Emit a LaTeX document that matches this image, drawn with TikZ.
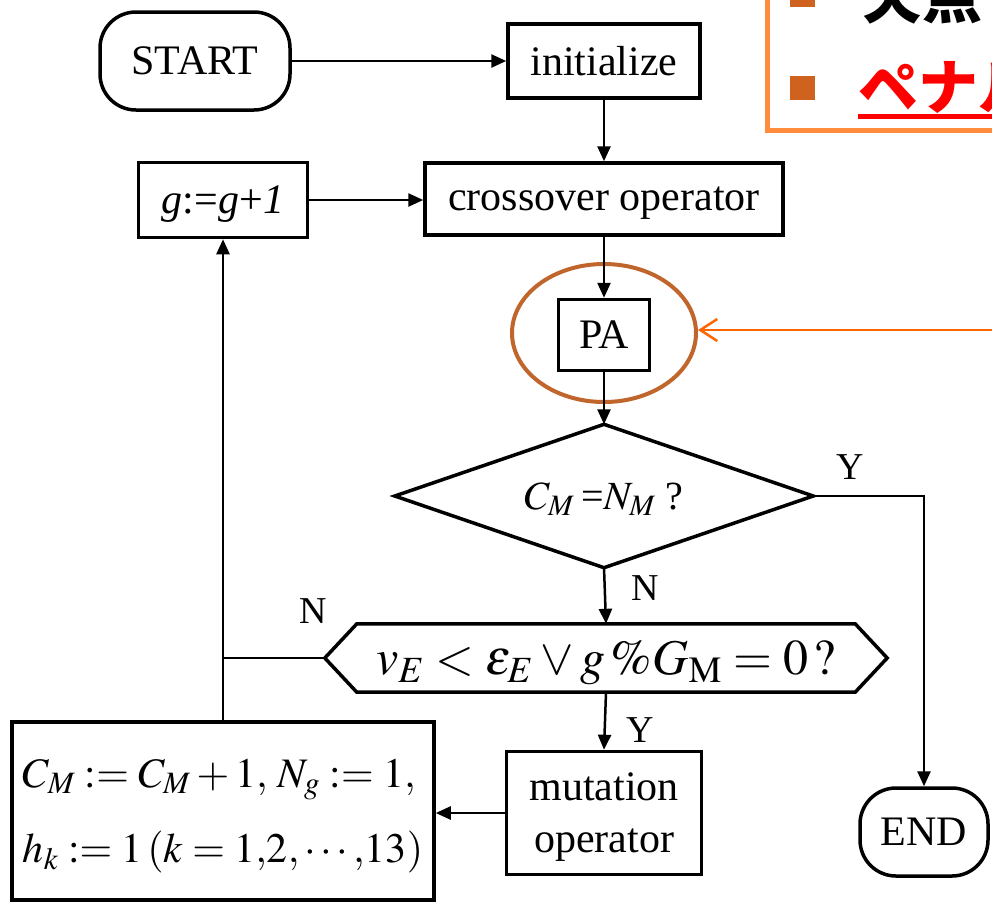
\documentclass[tikz,border=0pt]{standalone}
\usepackage{mathptmx}
\usepackage{fontspec}
\setmainfont{Liberation Serif}
\newfontfamily\cjk{Noto Sans CJK JP}
\usetikzlibrary{arrows.meta,shapes.geometric}
\definecolor{ecol}{HTML}{C0652B}
\definecolor{oarrow}{HTML}{FF6600}
\definecolor{obox}{HTML}{FF8B3D}
\definecolor{bul}{HTML}{D0621F}
\tikzset{
  base/.style={draw, line width=3.5pt, inner sep=0pt, text depth=0pt, font=\fontsize{42}{52}\selectfont},
  box/.style={base, rectangle},
  term/.style={base, rounded corners=36pt},
  hidden/.style={inner sep=0pt, text depth=0pt},
  conn/.style={line width=2.5pt, -{Triangle[length=15pt,width=13pt]}},
  plain/.style={line width=2.5pt},
  lbl/.style={inner sep=0pt, font=\fontsize{38}{44}\selectfont},
  oarr/.style={draw=oarrow, line width=2.5pt, -{Straight Barb[length=17pt,width=22pt]}},
  cjktext/.style={anchor=base west, inner sep=0pt, font=\cjk\bfseries\fontsize{60}{70}\selectfont}
}
\begin{document}
\begin{tikzpicture}[x=1pt,y=-1pt]
\useasboundingbox (0,0) rectangle (992,903);
\clip (0,0) rectangle (992,903);

% top-right cropped box
\draw[draw=obox, line width=5pt] (767,-60) rectangle (1100,130);
\fill[bul] (790,-17) rectangle (815,7);
\fill[bul] (790,76) rectangle (815,100);
\node[cjktext] (t1) at (862,18) {欠点};
\node[cjktext, text=red] (t2) at (858,109) {ペナルティ};
\draw[red, line width=5pt] (t2.base west) ++(0,7) coordinate (u1) -- (1100,116);

% nodes
\node[term, minimum width=190pt, minimum height=98pt] (start) at (195,61) {START};
\node[box, minimum width=192pt, minimum height=74pt] (init) at (604,61) {initialize};
\node[box, minimum width=358pt, minimum height=72pt] (cross) at (604,199) {crossover operator};
\node[box, minimum width=169pt, minimum height=75pt] (gbox) at (223,200) {\textit{g}:=\textit{g}+\textit{1}};
\node[box, minimum width=91pt, minimum height=71pt] (pa) at (604,335) {PA};
\node[ellipse, draw=ecol, line width=4pt, minimum width=184pt, minimum height=138pt] (ell) at (604,333) {};
\node[hidden, minimum width=418pt, minimum height=143pt, font=\fontsize{40}{46}\selectfont] (dia) at (604,496) {$C_M$\,=$N_M$ ?};
\draw[line width=3.5pt, line join=miter] (dia.west) -- (dia.north) -- (dia.east) -- (dia.south) -- cycle;
\node[hidden, minimum width=562pt, minimum height=68pt, font=\fontsize{50}{56}\selectfont] (hex) at (606,658) {$v_E<\varepsilon_E\vee g\,\%G_{\mathrm M}=0\,?$};
\draw[line width=3.5pt] (hex.west) -- ([xshift=32pt]hex.north west) -- ([xshift=-32pt]hex.north east) -- (hex.east) -- ([xshift=-32pt]hex.south east) -- ([xshift=32pt]hex.south west) -- cycle;
\node[box, minimum width=195pt, minimum height=123pt, align=center] (mut) at (604,813) {mutation\\operator};
\node[box, minimum width=422pt, minimum height=178pt, align=left, font=\fontsize{42}{75}\selectfont] (calc) at (223,811)
  {$C_M \mathrel{:=} C_M+1,\, N_g \mathrel{:=} 1,$\\$h_k \mathrel{:=} 1\,(k=1{,}2{,}\cdots{,}13)$};
\node[term, minimum width=128pt, minimum height=88pt] (end) at (924,832) {END};

% connectors
\draw[conn] (start) -- (init);
\draw[conn] (init) -- (cross);
\draw[conn] (gbox.east) -- (gbox.east -| cross.west);
\draw[conn] (cross) -- (pa);
\draw[conn] (pa) -- (dia.north);
\draw[conn] (dia.east) -| (end.north);
\draw[conn] (dia.south) -- (hex.north);
\draw[conn] (hex.south) -- (mut.north);
\draw[conn] (mut.west) -- (mut.west -| calc.east);
\coordinate (j) at (calc.north |- hex.west);
\draw[plain] (hex.west) -- (j);
\draw[conn] (calc.north) -- (gbox.south);
\coordinate (src) at (1010,330);
\draw[oarr] (src) -- (src -| ell.east);

% labels
\node[lbl] (ly1) at (850,467) {Y};
\node[lbl] (ln1) at (645,588) {N};
\node[lbl] (ln2) at (313,611) {N};
\node[lbl] (ly2) at (640,730) {Y};
\end{tikzpicture}
\end{document}
